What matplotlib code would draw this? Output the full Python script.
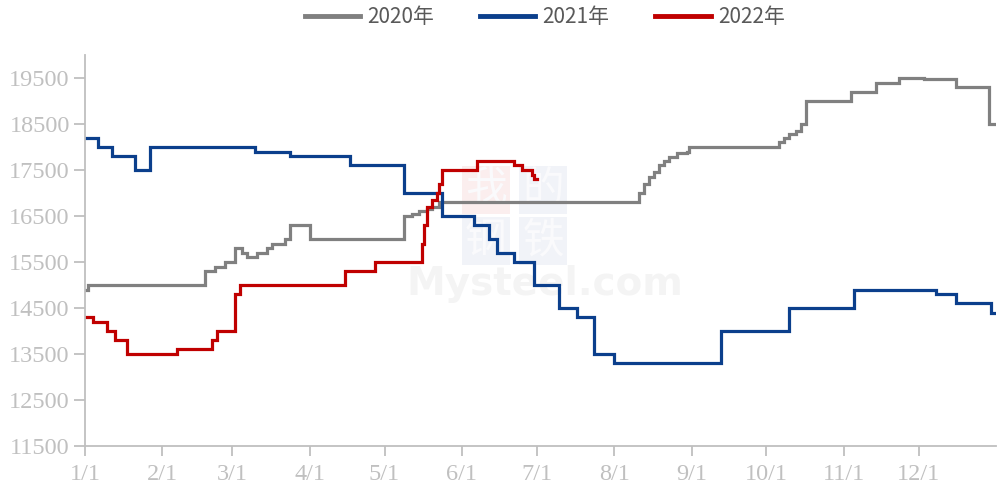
import matplotlib
matplotlib.use("Agg")
import matplotlib.pyplot as plt

plt.rcParams['font.family'] = ['Liberation Serif', 'DejaVu Serif']

# day-of-year change points (step data), values in yuan/t
gray_days = [0, 1, 48, 52, 56, 60, 63, 65, 69, 73, 75, 80, 82, 90, 128, 131, 134, 137,
             139, 142, 222, 224, 226, 228, 230, 232, 234, 237, 241, 242, 278, 280, 282,
             285, 287, 289, 307, 317, 326, 336, 349, 362, 365]
gray_vals = [14900, 15000, 15300, 15400, 15500, 15800, 15700, 15600, 15700, 15800, 15900,
             16000, 16300, 16000, 16500, 16550, 16600, 16650, 16700, 16800, 17000, 17200,
             17350, 17450, 17600, 17700, 17780, 17860, 17900, 18000, 18100, 18200, 18280,
             18350, 18500, 19000, 19200, 19400, 19500, 19480, 19300, 18500, 18500]

blue_days = [0, 5, 11, 20, 26, 68, 82, 106, 128, 143, 156, 162, 165, 172, 180, 190, 197,
             204, 212, 255, 282, 308, 341, 349, 363, 365]
blue_vals = [18200, 18000, 17800, 17500, 18000, 17900, 17800, 17600, 17000, 16500, 16300,
             16000, 15700, 15500, 15000, 14500, 14300, 13500, 13300, 14000, 14500, 14900,
             14800, 14600, 14400, 14400]

red_days = [0, 3, 9, 12, 17, 37, 51, 53, 60, 62, 104, 116, 135, 136, 137, 139, 141, 142,
            143, 157, 172, 175, 179, 180, 181]
red_vals = [14300, 14200, 14000, 13800, 13500, 13600, 13800, 14000, 14800, 15000, 15300,
            15500, 15900, 16300, 16700, 16850, 17000, 17200, 17500, 17700, 17600, 17500,
            17400, 17300, 17300]

month_starts = [0, 31, 59, 90, 120, 151, 181, 212, 243, 273, 304, 334]
month_labels = ['1/1', '2/1', '3/1', '4/1', '5/1', '6/1', '7/1', '8/1', '9/1', '10/1',
                '11/1', '12/1']
y_ticks = [11500, 12500, 13500, 14500, 15500, 16500, 17500, 18500, 19500]

series = [('2020年', gray_days, gray_vals, '#808080'),
          ('2021年', blue_days, blue_vals, '#0b3f8c'),
          ('2022年', red_days, red_vals, '#c00000')]

fig = plt.figure(figsize=(9.98, 4.94), dpi=100)
ax = fig.add_axes([0.0852, 0.0972, 0.9128, 0.7915])
ax.patch.set_alpha(0)

# faint watermark
cjk = ['Noto Sans CJK SC', 'DejaVu Sans']
ax.text(0.505, 0.415, 'Mysteel.com', transform=ax.transAxes, ha='center', va='center',
        fontsize=28, fontweight='bold', color='#f4f4f4', family='DejaVu Sans', zorder=0)
for ch, (cx, cy), bg in [('我', (0.440, 0.655), '#fbeeee'), ('的', (0.503, 0.655), '#f1f3f8'),
                         ('钢', (0.440, 0.525), '#f1f3f8'), ('铁', (0.503, 0.525), '#f1f3f8')]:
    ax.text(cx, cy, ch, transform=ax.transAxes, ha='center', va='center', fontsize=30,
            color='#fafafc', family=cjk, zorder=0,
            bbox=dict(boxstyle='square,pad=0.08', fc=bg, ec='none'))

for name, d, v, c in series:
    ax.plot(d, v, drawstyle='steps-post', color=c, lw=2.3, label=name, zorder=2,
            solid_joinstyle='miter')

ax.set_xlim(0, 365)
ax.set_ylim(11500, 20000)
ax.set_xticks(month_starts)
ax.set_xticklabels(month_labels, family='Liberation Serif')
ax.set_yticks(y_ticks)
ax.set_yticklabels([str(t) for t in y_ticks], family='Liberation Serif')

for s in ['top', 'right']:
    ax.spines[s].set_visible(False)
for s in ['left', 'bottom']:
    ax.spines[s].set_color('#bfbfbf')
    ax.spines[s].set_linewidth(1.3)

ax.tick_params(axis='both', colors='#bfbfbf', labelcolor='#c0c0c0', direction='out',
               width=1.3, labelsize=17.5)
ax.tick_params(axis='y', length=8, pad=3)
ax.tick_params(axis='x', length=7, pad=6)

leg = fig.legend(loc='center', bbox_to_anchor=(0.546, 0.965), ncol=3, frameon=False,
                 handlelength=2.65, handletextpad=0.35, columnspacing=2.2,
                 prop={'family': cjk, 'size': 15})
for t in leg.get_texts():
    t.set_color('#595959')
for h in leg.legend_handles:
    h.set_linewidth(3.5)

fig.savefig('out.png', dpi=100)
